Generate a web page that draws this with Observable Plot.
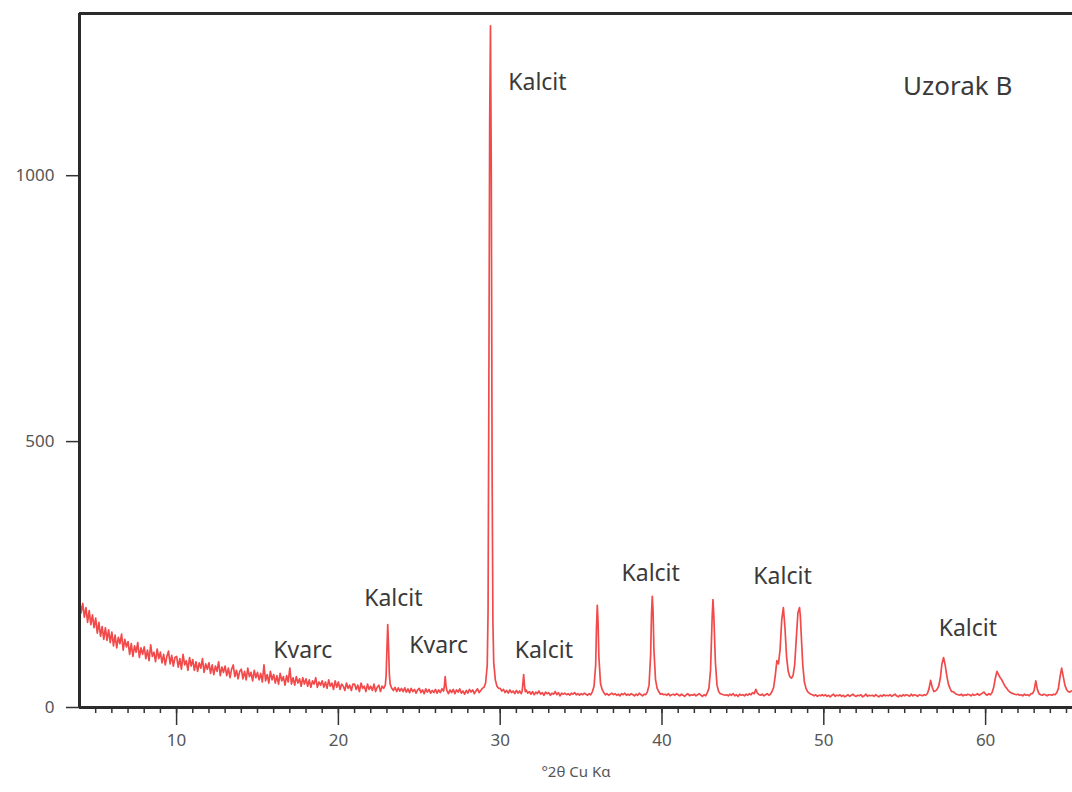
<!DOCTYPE html>
<html><head><meta charset="utf-8">
<script src="https://cdn.jsdelivr.net/npm/d3@7"></script>
<script src="https://cdn.jsdelivr.net/npm/@observablehq/plot@0.6"></script>
<style>
html,body{margin:0;padding:0;background:#fff;}
</style></head><body><div id="chart"></div>
<script>
// Background counts, one row per degree 2θ (4.0 … 65.3, 0.1° apart)
const bgStart = 4.0, bgStep = 0.1;
const background = [
205,178,196,170,188,160,182,156,174,150,
168,140,160,134,152,128,150,126,146,122,
142,116,136,112,132,120,138,108,128,114,
124,100,120,96,116,104,122,94,112,100,
114,92,108,88,118,96,104,86,110,92,
104,84,100,80,96,106,82,98,78,94,
96,76,92,72,100,80,88,70,94,78,
90,70,86,68,84,74,92,66,82,72,
84,64,80,62,78,68,86,60,76,66,
78,60,74,56,72,80,58,70,54,68,
72,54,68,52,74,58,66,50,70,56,
66,52,64,48,80,50,62,46,68,52,
62,46,60,44,64,50,58,42,60,48,
74,44,56,42,58,46,54,40,56,44,
54,40,52,38,50,44,56,38,48,42,
50,38,48,36,52,40,46,34,50,38,
48,34,44,40,32,46,36,42,32,44,
44,34,42,30,46,36,40,30,44,34,
40,32,44,30,38,42,30,40,34,38,
36,40,38,34,32,38,30,37,31,36,
30,37,29,35,28,36,30,34,27,33,
36,28,33,26,35,29,34,27,32,28,
34,27,33,28,35,30,44,31,26,33,
28,34,26,33,29,35,27,31,25,32,
27,34,29,33,26,31,35,28,32,30,
34,36,40,44,50,50,44,40,38,36,
36,31,34,28,32,27,33,28,31,26,
32,27,31,26,30,28,33,27,30,25,
30,24,29,26,31,25,28,23,29,26,
28,23,27,25,30,24,28,22,27,25,
27,24,26,23,27,25,28,24,26,23,
26,24,27,25,23,26,24,28,27,30,
34,30,28,26,27,24,26,23,25,27,
24,26,23,25,22,26,24,27,23,25,
23,26,24,22,25,23,27,24,22,25,
24,26,23,28,30,30,28,26,24,25,
26,24,25,23,26,22,24,25,23,26,
24,22,25,23,21,24,26,22,24,23,
25,22,24,26,23,21,24,22,25,23,
25,24,26,28,30,28,26,25,24,23,
24,22,25,23,26,22,24,21,25,23,
24,22,25,23,26,24,28,26,25,23,
24,23,25,22,24,26,23,25,27,29,
30,32,34,36,38,36,34,32,30,29,
30,32,34,36,38,36,34,32,30,29,
30,27,25,24,22,24,21,23,22,24,
22,24,21,23,20,23,25,21,23,22,
24,21,23,20,22,24,21,23,25,22,
21,23,22,24,20,22,25,21,23,22,
23,21,24,22,20,23,21,24,22,23,
22,24,21,23,25,22,20,23,21,24,
22,24,23,21,25,22,24,23,21,24,
23,22,24,23,25,24,27,25,24,28,
30,32,34,36,38,36,34,32,30,29,
30,27,25,24,23,25,22,24,23,25,
24,22,25,23,24,26,23,25,27,29,
25,23,26,24,25,27,29,30,28,26,
40,36,32,29,27,28,26,26,25,24,
25,23,24,22,25,23,24,22,26,24,
28,45,30,26,24,23,25,24,22,24,
24,23,25,24,26,28,34,52,40,32,
30,28,29,31
];

// Peaks: [°2θ, counts]
const peak23 = [[22.8,36],[22.9,42],[22.95,60],[23.0,110],[23.05,156],[23.1,115],[23.15,62],[23.2,44],[23.3,36]];
const peak26 = [[26.5,31],[26.55,40],[26.6,58],[26.65,42],[26.7,32]];
const peak29 = [[28.9,36],[29.0,38],[29.1,46],[29.2,80],[29.25,180],[29.3,600],[29.35,1100],[29.4,1282],[29.45,1000],[29.5,450],[29.55,160],[29.6,85],[29.7,52],[29.8,40],[29.9,36]];
const peak31 = [[31.35,30],[31.4,44],[31.45,62],[31.5,42],[31.55,30]];
const peak36 = [[35.7,30],[35.8,40],[35.9,80],[35.95,150],[36.0,192],[36.05,160],[36.1,95],[36.2,45],[36.3,34],[36.4,28]];
const peak39 = [[39.1,30],[39.2,42],[39.3,100],[39.35,175],[39.4,209],[39.45,180],[39.5,110],[39.6,52],[39.7,36],[39.8,30]];
const peak43 = [[42.8,28],[42.9,36],[43.0,70],[43.1,170],[43.15,203],[43.2,175],[43.3,85],[43.4,42],[43.5,30]];
const peak45 = [[45.7,26],[45.8,34],[45.9,27]];
const peak47 = [[46.8,30],[46.9,38],[47.0,60],[47.1,88],[47.2,82],[47.3,110],[47.4,165],[47.5,188],[47.6,150],[47.7,95],[47.8,68],[47.9,58],[48.0,55],[48.1,60],[48.2,80],[48.3,130],[48.4,178],[48.5,188],[48.55,172],[48.6,140],[48.7,80],[48.8,48],[48.9,36],[49.0,30]];
const peak57 = [[56.4,26],[56.5,35],[56.6,51],[56.7,38],[56.8,30],[56.9,31],[57.0,34],[57.1,40],[57.2,55],[57.3,82],[57.4,94],[57.5,80],[57.6,60],[57.7,44],[57.8,36],[57.9,30]];
const peak61 = [[60.4,28],[60.5,38],[60.6,55],[60.7,68],[60.8,62],[60.9,56],[61.0,52],[61.1,46],[61.2,40],[61.3,36],[61.4,32],[61.5,29],[61.6,27]];
const peak63 = [[62.9,26],[63.0,32],[63.1,50],[63.2,34],[63.3,26]];
const peak65 = [[64.4,28],[64.5,36],[64.6,58],[64.7,74],[64.8,58],[64.9,42],[65.0,34],[65.1,30]];

// Annotations
const labelText = ["Kalcit","Kalcit","Kvarc","Kvarc","Kalcit","Kalcit","Kalcit","Kalcit"];
const labelX    = [32.3, 23.4, 17.8, 26.2, 32.7, 39.3, 47.45, 58.9];
const labelY    = [1175, 205, 107, 117, 107, 252, 246, 148];
const sampleName = "Uzorak B";
const sampleX = 54.9, sampleY = 1167;

const yTicks = [0, 500, 1000];
const xTicks = [10, 20, 30, 40, 50, 60];
const xMinorTicks = [5,6,7,8,9,10,11,12,13,14,15,16,17,18,19,20,21,22,23,24,25,26,27,28,29,30,31,32,33,34,35,36,37,38,39,40,41,42,43,44,45,46,47,48,49,50,51,52,53,54,55,56,57,58,59,60,61,62,63,64,65];
const xTitle = "°2θ Cu Kα";
const xDomain = [4, 65.37];
const yDomain = [0, 1305];

// Build series
const peaks = [peak23, peak26, peak29, peak31, peak36, peak39, peak43, peak45, peak47, peak57, peak61, peak63, peak65];
let pts = background.map((y, i) => ({x: +(bgStart + i * bgStep).toFixed(2), y}));
for (const p of peaks) {
  const lo = p[0][0] - 1e-6, hi = p[p.length - 1][0] + 1e-6;
  pts = pts.filter(d => d.x < lo || d.x > hi);
  pts.push(...p.map(([x, y]) => ({x, y})));
}
pts.sort((a, b) => a.x - b.x);

const labels = labelText.map((t, i) => ({t, x: labelX[i], y: labelY[i]}));

const chart = Plot.plot({
  width: 1072, height: 792,
  marginLeft: 79, marginRight: 0, marginTop: 13, marginBottom: 85,
  x: {domain: xDomain, label: null},
  y: {domain: yDomain, label: null},
  style: {fontFamily: "'Noto Sans', sans-serif", background: "#fff"},
  marks: [
    Plot.axisX({ticks: xMinorTicks, tickSize: 6, tickFormat: () => "", stroke: "#333", strokeWidth: 1.5, label: null}),
    Plot.axisX({ticks: xTicks, tickSize: 18, tickPadding: 8, tickFormat: d => String(d), fontSize: 17, stroke: "#333", strokeWidth: 1.5, fill: "#555", label: null}),
    Plot.axisY({ticks: yTicks, tickSize: 13, tickPadding: 12, tickFormat: d => String(d), fontSize: 17, stroke: "#333", strokeWidth: 1.5, fill: "#555", label: null}),
    Plot.line(pts, {x: "x", y: "y", stroke: "#f24a4a", strokeWidth: 1.7, clip: true}),
    Plot.ruleX([xDomain[0]], {stroke: "#2b2b2b", strokeWidth: 3}),
    Plot.ruleY([yDomain[0]], {stroke: "#2b2b2b", strokeWidth: 3}),
    Plot.ruleY([yDomain[1]], {stroke: "#2b2b2b", strokeWidth: 3}),
    Plot.text(labels, {x: "x", y: "y", text: "t", fontSize: 23, fill: "#3a3a3a"}),
    Plot.text([sampleName], {x: sampleX, y: sampleY, text: d => d, textAnchor: "start", fontSize: 26, fill: "#3a3a3a"}),
    Plot.text([xTitle], {frameAnchor: "bottom", dy: 69, text: d => d, fontSize: 15, fill: "#555"})
  ]
});
document.getElementById("chart").appendChild(chart);
</script>
</body></html>
